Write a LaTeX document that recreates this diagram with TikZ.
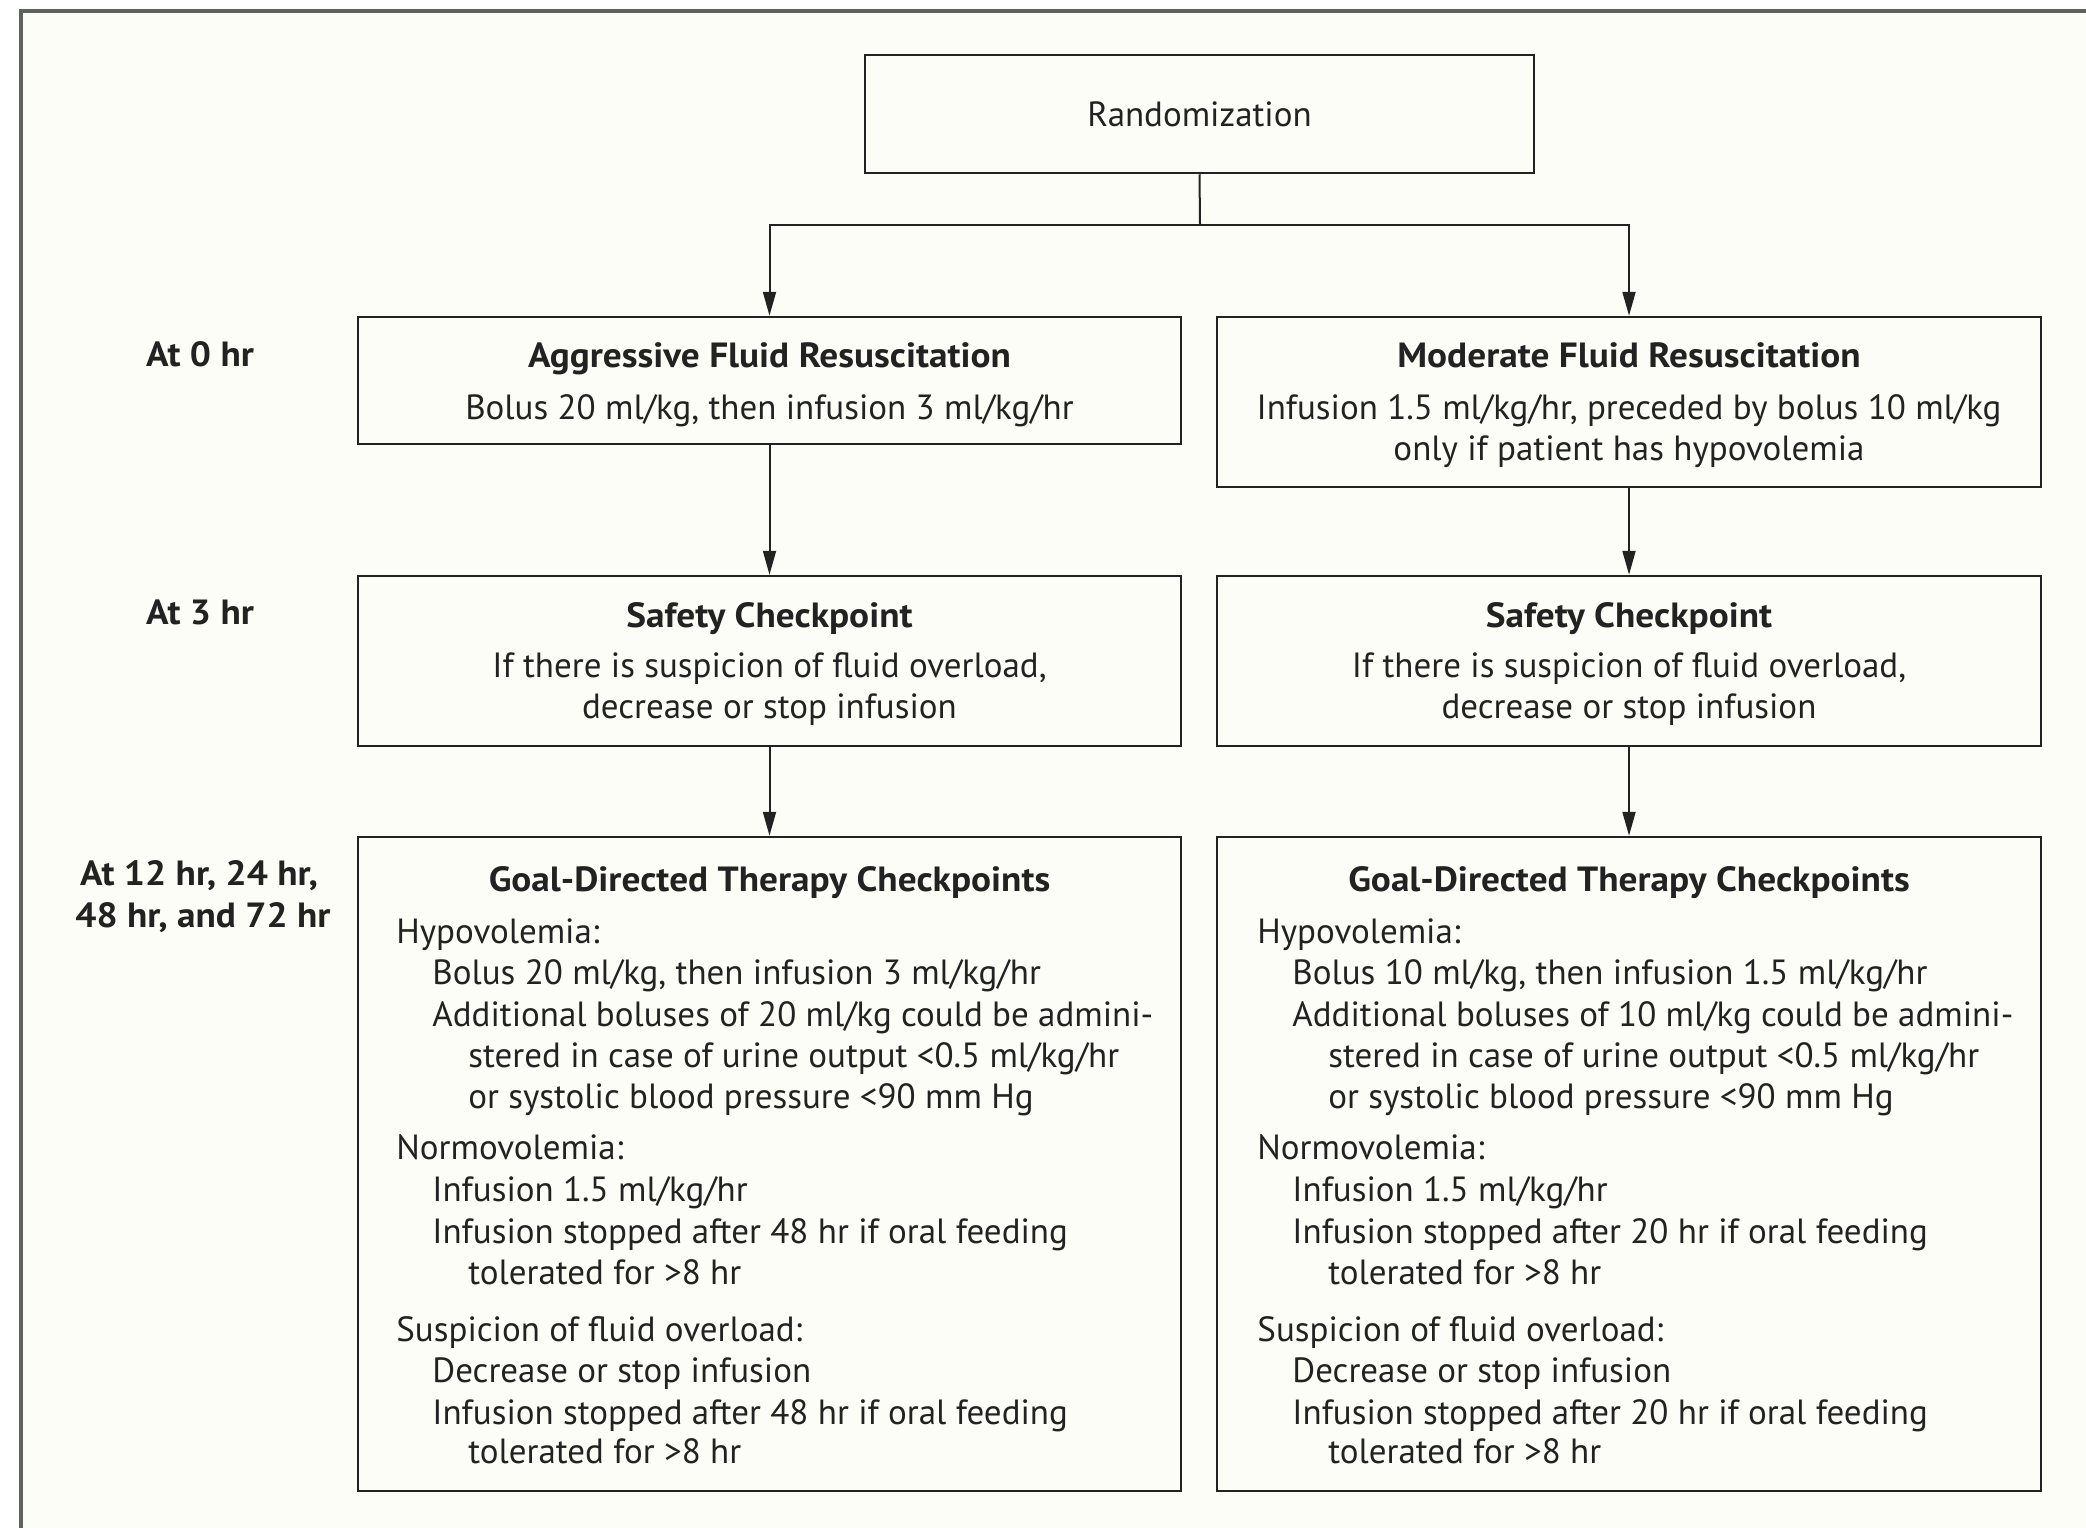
\documentclass[tikz,border=0pt]{standalone}
\usepackage{fontspec}
\setmainfont{PT Sans}[BoldFeatures={FakeStretch=1.065}]
\usetikzlibrary{arrows.meta,fit}
\definecolor{bg}{HTML}{FDFDF7}
\definecolor{framecol}{HTML}{5E635E}
\definecolor{ink}{HTML}{222222}
\begin{document}
\begin{tikzpicture}[x=0.5pt,y=-0.5pt,
  box/.style={draw=ink, line width=1.25pt, inner sep=0pt, rectangle},
  txt/.style={inner sep=0pt, text=ink, font=\fontsize{17.5}{21}\selectfont},
  ttl/.style={txt, font=\fontsize{17.5}{21}\selectfont\bfseries},
  lbl/.style={txt, font=\fontsize{17.5}{21}\selectfont\bfseries},
  conn/.style={draw=ink, line width=1pt},
  arr/.style={conn, -{Triangle[length=12pt,width=6.5pt]}}]
\useasboundingbox (0,0) rectangle (2086,1527);
\fill[white] (0,0) rectangle (2086,1527);
\draw[framecol, fill=bg, line width=2.2pt] (21,11) rectangle (2110,1550);

% boxes
\node[box, fit={(865,55) (1534,173)}] (rand) {};
\node[box, fit={(358,317) (1181,444)}] (agg) {};
\node[box, fit={(1217,317) (2041,487)}] (mod) {};
\node[box, fit={(358,576) (1181,746)}] (safeL) {};
\node[box, fit={(1217,576) (2041,746)}] (safeR) {};
\node[box, fit={(358,837) (1181,1491)}] (gdtL) {};
\node[box, fit={(1217,837) (2041,1491)}] (gdtR) {};

% connectors
\coordinate (split) at (1200,225);
\draw[conn] (rand.south) -- (split);
\draw[arr] (split) -| (agg.north);
\draw[arr] (split) -| (mod.north);
\draw[arr] (agg.south) -- (safeL.north);
\draw[arr] (mod.south) -- (safeR.north);
\draw[arr] (safeL.south) -- (gdtL.north);
\draw[arr] (safeR.south) -- (gdtR.north);

% randomization
\node[txt, anchor=base] (randT) at (1199.5,126) {Randomization};

% row labels
\node[lbl, anchor=base] (l0) at (200,366) {At 0 hr};
\node[lbl, anchor=base] (l3) at (200,624) {At 3 hr};
\node[lbl, anchor=base] (l12a) at (199,885) {At 12 hr, 24 hr,};
\node[lbl, anchor=base] (l12b) at (203,927) {48 hr, and 72 hr};

% row 1
\node[ttl, anchor=base] (aggT) at (769.5,367) {Aggressive Fluid Resuscitation};
\node[txt, anchor=base] (aggA) at (769.5,419) {Bolus 20 ml/kg, then infusion 3 ml/kg/hr};
\node[ttl, anchor=base] (modT) at (1629,367) {Moderate Fluid Resuscitation};
\node[txt, anchor=base] (modA) at (1629,419) {Infusion 1.5 ml/kg/hr, preceded by bolus 10 ml/kg};
\node[txt, anchor=base] (modB) at (1629,460) {only if patient has hypovolemia};

% row 2
\node[ttl, anchor=base] (sLT) at (769.5,627) {Safety Checkpoint};
\node[txt, anchor=base] (sLA) at (769.5,677) {If there is suspicion of fluid overload,};
\node[txt, anchor=base] (sLB) at (769.5,718) {decrease or stop infusion};
\node[ttl, anchor=base] (sRT) at (1629,627) {Safety Checkpoint};
\node[txt, anchor=base] (sRA) at (1629,677) {If there is suspicion of fluid overload,};
\node[txt, anchor=base] (sRB) at (1629,718) {decrease or stop infusion};

% row 3 left
\node[ttl, anchor=base] (gLT) at (769.5,891) {Goal-Directed Therapy Checkpoints};
\node[txt, anchor=base west] (gL1) at (396,943) {Hypovolemia:};
\node[txt, anchor=base west] (gL2) at (432,984) {Bolus 20 ml/kg, then infusion 3 ml/kg/hr};
\node[txt, anchor=base west] (gL3) at (432,1026) {Additional boluses of 20 ml/kg could be admini-};
\node[txt, anchor=base west] (gL4) at (468,1067) {stered in case of urine output <0.5 ml/kg/hr};
\node[txt, anchor=base west] (gL5) at (468,1108) {or systolic blood pressure <90 mm Hg};
\node[txt, anchor=base west] (gL6) at (396,1159) {Normovolemia:};
\node[txt, anchor=base west] (gL7) at (432,1201) {Infusion 1.5 ml/kg/hr};
\node[txt, anchor=base west] (gL8) at (432,1243) {Infusion stopped after 48 hr if oral feeding};
\node[txt, anchor=base west] (gL9) at (468,1284) {tolerated for >8 hr};
\node[txt, anchor=base west] (gL10) at (396,1341) {Suspicion of fluid overload:};
\node[txt, anchor=base west] (gL11) at (432,1382) {Decrease or stop infusion};
\node[txt, anchor=base west] (gL12) at (432,1424) {Infusion stopped after 48 hr if oral feeding};
\node[txt, anchor=base west] (gL13) at (468,1463) {tolerated for >8 hr};

% row 3 right
\node[ttl, anchor=base] (gRT) at (1629,891) {Goal-Directed Therapy Checkpoints};
\node[txt, anchor=base west] (gR1) at (1257,943) {Hypovolemia:};
\node[txt, anchor=base west] (gR2) at (1292,984) {Bolus 10 ml/kg, then infusion 1.5 ml/kg/hr};
\node[txt, anchor=base west] (gR3) at (1292,1026) {Additional boluses of 10 ml/kg could be admini-};
\node[txt, anchor=base west] (gR4) at (1328,1067) {stered in case of urine output <0.5 ml/kg/hr};
\node[txt, anchor=base west] (gR5) at (1328,1108) {or systolic blood pressure <90 mm Hg};
\node[txt, anchor=base west] (gR6) at (1257,1159) {Normovolemia:};
\node[txt, anchor=base west] (gR7) at (1292,1201) {Infusion 1.5 ml/kg/hr};
\node[txt, anchor=base west] (gR8) at (1292,1243) {Infusion stopped after 20 hr if oral feeding};
\node[txt, anchor=base west] (gR9) at (1328,1284) {tolerated for >8 hr};
\node[txt, anchor=base west] (gR10) at (1257,1341) {Suspicion of fluid overload:};
\node[txt, anchor=base west] (gR11) at (1292,1382) {Decrease or stop infusion};
\node[txt, anchor=base west] (gR12) at (1292,1424) {Infusion stopped after 20 hr if oral feeding};
\node[txt, anchor=base west] (gR13) at (1328,1463) {tolerated for >8 hr};
\end{tikzpicture}
\end{document}
